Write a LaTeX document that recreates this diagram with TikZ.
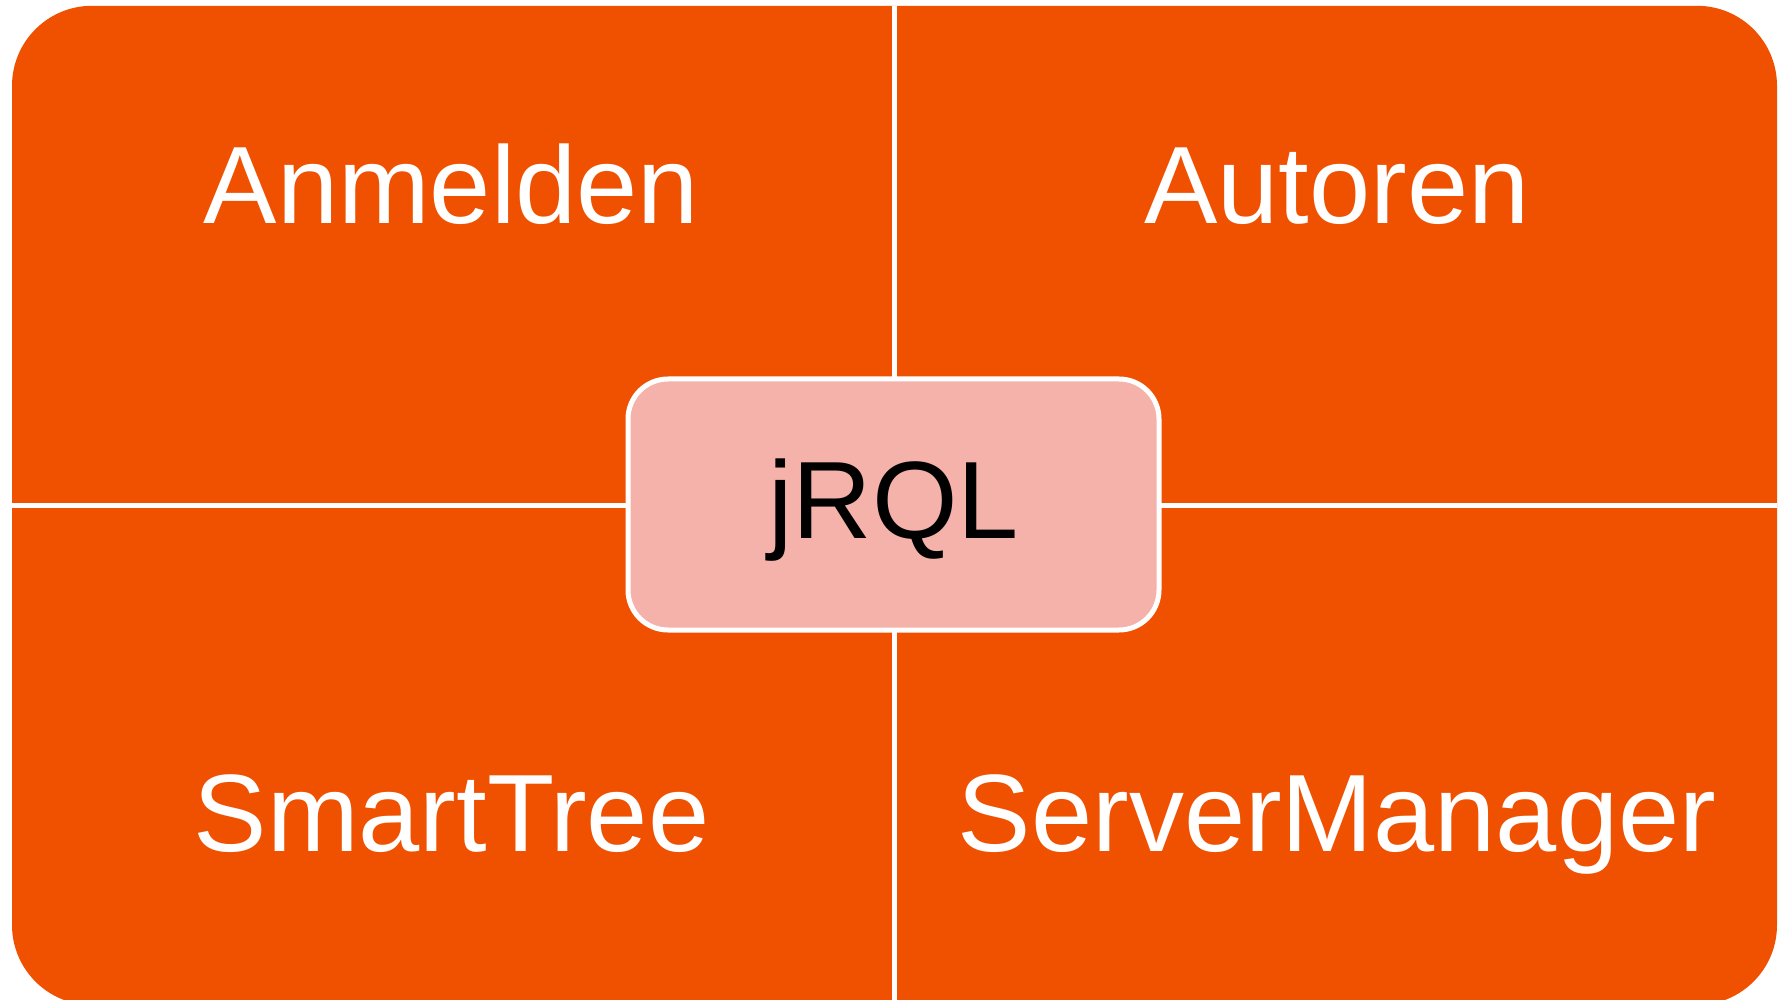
\documentclass[tikz,border=0pt]{standalone}
\usepackage{fontspec}
\setmainfont{Liberation Sans}
\definecolor{quadorange}{RGB}{240,81,0}
\definecolor{jrqlpink}{RGB}{245,178,170}

\begin{document}
\begin{tikzpicture}[x=0.5pt,y=-0.5pt]
\tikzstyle{every node}=[inner sep=0pt, outer sep=0pt]
\tikzstyle{quadtext}=[anchor=base, text=white, font=\fontsize{55}{60}\selectfont]
\tikzstyle{divider}=[draw=white, line width=2.5pt]
\useasboundingbox (0,0) rectangle (1779,1000);
\draw (894.5,505.4) node (frame) [fill=quadorange, rounded corners=40pt, minimum width=882.5pt, minimum height=499.6pt] {};
\draw[divider] (frame.north) -- (frame.south);
\draw[divider] (frame.west) -- (frame.east);
\draw (893.5,504.5) node (jrql) [draw=white, line width=2.5pt, fill=jrqlpink, rounded corners=20pt, minimum width=265.5pt, minimum height=125.5pt, text height=45pt, text depth=11.5pt, font=\fontsize{55}{60}\selectfont] {jRQL};
\draw (451.5,224) node (anmelden) [quadtext] {Anmelden};
\draw (1337,224) node (autoren) [quadtext] {Autoren};
\draw (451.5,851) node (smarttree) [quadtext] {SmartTree};
\draw (1337,851) node (servermanager) [quadtext] {ServerManager};
\end{tikzpicture}
\end{document}
